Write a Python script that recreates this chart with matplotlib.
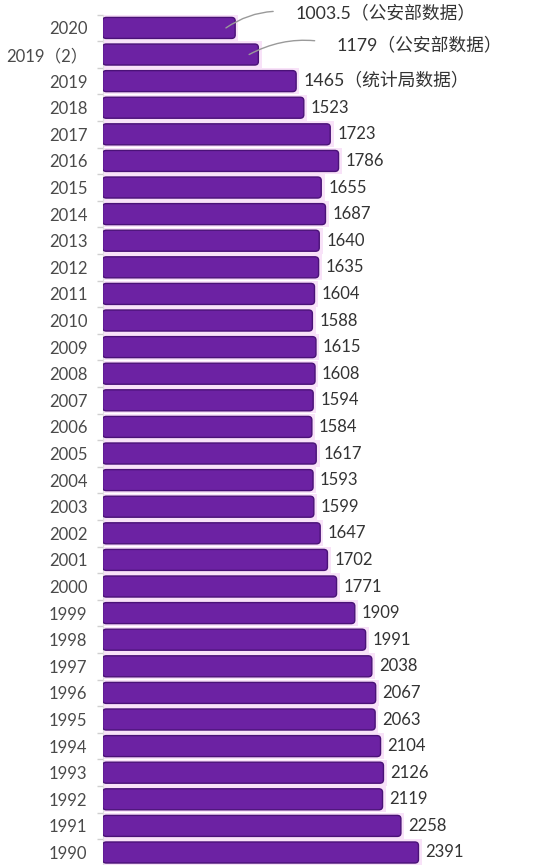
import matplotlib
matplotlib.use('Agg')
import matplotlib.pyplot as plt
from matplotlib.patches import FancyBboxPatch

plt.rcParams['font.family'] = ['Lato', 'Noto Sans CJK SC', 'DejaVu Sans']

# data, top to bottom
years = ['2020', '2019（2）', '2019', '2018', '2017', '2016', '2015', '2014',
         '2013', '2012', '2011', '2010', '2009', '2008', '2007', '2006',
         '2005', '2004', '2003', '2002', '2001', '2000', '1999', '1998',
         '1997', '1996', '1995', '1994', '1993', '1992', '1991', '1990']
births = [1003.5, 1179, 1465, 1523, 1723, 1786, 1655, 1687,
          1640, 1635, 1604, 1588, 1615, 1608, 1594, 1584,
          1617, 1593, 1599, 1647, 1702, 1771, 1909, 1991,
          2038, 2067, 2063, 2104, 2126, 2119, 2258, 2391]
value_labels = ['', '', '1465（统计局数据）'] + [str(v) for v in births[3:]]
notes = {0: '1003.5（公安部数据）', 1: '1179（公安部数据）'}

fig = plt.figure(figsize=(5.4, 8.65), dpi=100)
ax = fig.add_axes([0.19, 0, 0.81, 1])

pos = list(range(len(years)))

# pale glow behind bars
ax.barh(pos, [v + 25 for v in births], height=0.98, color='#f8e2f8', zorder=1)

bars = ax.barh(pos, births, height=0.79, color='#6c22a3', zorder=2)
lbls = ax.bar_label(bars, value_labels, padding=5, fontsize=12, color='#333333')
lbls[2].set_fontsize(12.8)

# swap plain rectangles for rounded ones
for r in bars:
    fb = FancyBboxPatch((r.get_x(), r.get_y()), r.get_width(), r.get_height(),
                        boxstyle='round,pad=0,rounding_size=28',
                        mutation_aspect=0.0046,
                        facecolor='#6c22a3', edgecolor='#4a1277', lw=1.0,
                        zorder=3)
    ax.add_patch(fb)
    r.set_visible(False)

# leader notes for the two ministry numbers
offsets = {0: (50, 11), 1: (63, 7)}
for i, txt in notes.items():
    ax.annotate(txt, xy=(births[i] - 70, i), xytext=offsets[i],
                textcoords='offset points', ha='left', va='center',
                fontsize=12.8, color='#333333',
                arrowprops=dict(arrowstyle='-', color='#9a9a9a', lw=1,
                                relpos=(0, 0.5), shrinkA=14, shrinkB=0,
                                connectionstyle='arc3,rad=0.2'))

ax.set_xlim(0, 3311)
ax.set_ylim(31.47, -1.05)
ax.set_yticks(pos)
ax.set_yticklabels(years, fontsize=12, color='#4a4a4a')
ax.set_yticks([p + 0.5 for p in pos[:-1]] + [-0.5], minor=True)
ax.tick_params(axis='y', which='major', length=0, pad=11)
ax.tick_params(axis='y', which='minor', length=4, color='#d0d0d0', width=1)
ax.set_xticks([])
for s in ['top', 'right', 'bottom']:
    ax.spines[s].set_visible(False)
ax.spines['left'].set_color('#e0e0e0')
ax.spines['left'].set_bounds(-0.5, 31.47)

fig.savefig('out.png', dpi=100)
